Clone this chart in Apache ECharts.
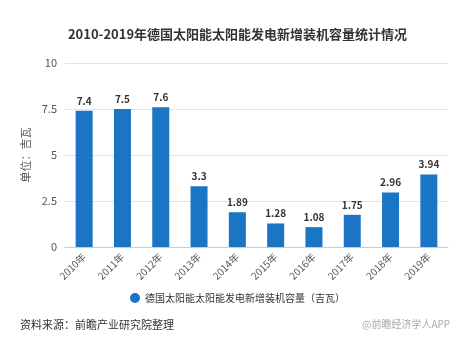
<!DOCTYPE html>
<html><head><meta charset="utf-8">
<script src="https://cdn.jsdelivr.net/npm/echarts@6/dist/echarts.min.js"></script>
<style>html,body{margin:0;padding:0;background:#fff}#c{width:475px;height:347px}</style>
</head><body><div id="c"></div>
<script>
const categories = ['2010年','2011年','2012年','2013年','2014年','2015年','2016年','2017年','2018年','2019年'];
const values = [7.4, 7.5, 7.6, 3.3, 1.89, 1.28, 1.08, 1.75, 2.96, 3.94];
const yTicks = [0, 2.5, 5, 7.5, 10];
const seriesName = '德国太阳能太阳能发电新增装机容量（吉瓦）';
const font = '"Noto Sans CJK SC", "Microsoft YaHei", sans-serif';
const chart = echarts.init(document.getElementById('c'));
chart.setOption({
  animation: false,
  textStyle: {fontFamily: font},
  title: {text: '2010-2019年德国太阳能太阳能发电新增装机容量统计情况', left: 'center', top: 23,
    textStyle: {fontSize: 13, fontWeight: 'bold', color: '#333', fontFamily: font}},
  legend: {bottom: 39, left: 'center', icon: 'circle', itemWidth: 10, itemHeight: 10,
    textStyle: {fontSize: 10, color: '#333'}},
  graphic: [
    {type: 'text', left: 20, top: 319, style: {text: '资料来源：前瞻产业研究院整理', fontSize: 11, fill: '#333', fontFamily: font}},
    {type: 'text', left: 362, top: 319, style: {text: '@前瞻经济学人APP', fontSize: 10, fill: '#aaa', fontFamily: font}}
  ],
  grid: {left: 65, right: 27, top: 63, bottom: 100},
  xAxis: {type: 'category', data: categories,
    axisLine: {lineStyle: {color: '#ccc'}}, axisTick: {show: false},
    axisLabel: {rotate: 45, fontSize: 10, color: '#555', margin: 8}},
  yAxis: {type: 'value', min: yTicks[0], max: yTicks[yTicks.length-1], interval: 2.5,
    name: '单位：吉瓦', nameLocation: 'middle', nameGap: 30, nameRotate: 90,
    nameTextStyle: {fontSize: 11, color: '#555'},
    axisLine: {show: false}, axisTick: {show: false},
    axisLabel: {fontSize: 11, color: '#555'},
    splitLine: {lineStyle: {color: '#e3e3e3'}}},
  series: [{name: seriesName, type: 'bar', data: values, barWidth: 17,
    itemStyle: {color: '#1a76c4'},
    label: {show: true, position: 'top', fontSize: 10, fontWeight: 'bold', color: '#333'}}]
});
</script></body></html>
